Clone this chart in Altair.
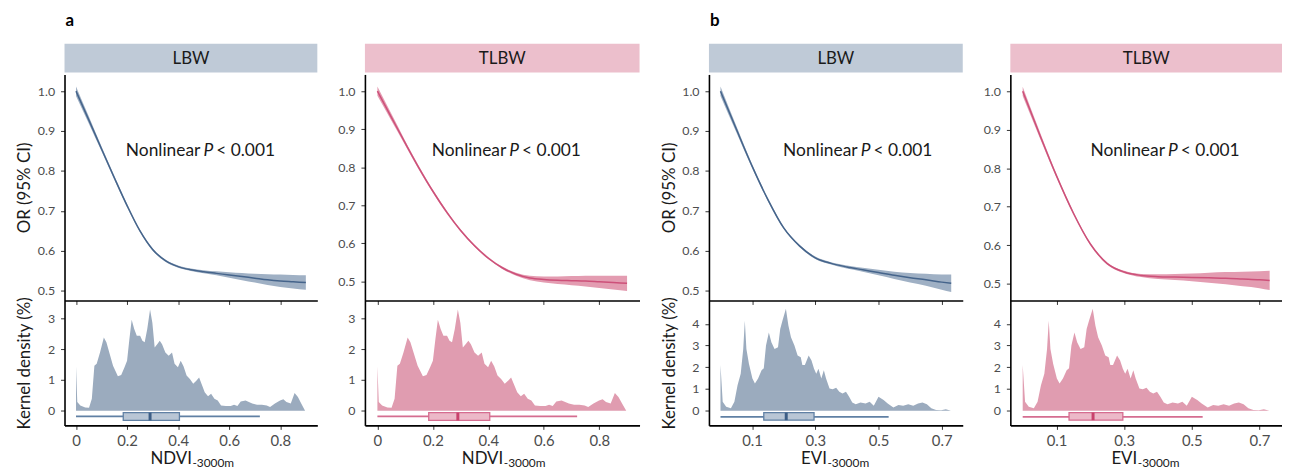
import altair as alt
import pandas as pd

FONT = "Lato"

# ---------------- data ----------------
ndvi_x = [0.00, 0.05, 0.10, 0.15, 0.20, 0.25, 0.30, 0.35, 0.40, 0.45,
          0.50, 0.55, 0.60, 0.65, 0.70, 0.75, 0.80, 0.85, 0.90]
a_lbw_or = [1.000, 0.928, 0.855, 0.783, 0.713, 0.650, 0.603, 0.575, 0.560, 0.552,
            0.547, 0.543, 0.539, 0.535, 0.531, 0.527, 0.524, 0.522, 0.520]
a_lbw_hi = [1.012, 0.937, 0.861, 0.788, 0.717, 0.653, 0.606, 0.578, 0.563, 0.555,
            0.551, 0.548, 0.546, 0.544, 0.542, 0.541, 0.540, 0.539, 0.538]
a_lbw_lo = [0.988, 0.919, 0.849, 0.778, 0.709, 0.647, 0.600, 0.572, 0.557, 0.549,
            0.543, 0.538, 0.532, 0.526, 0.520, 0.514, 0.509, 0.505, 0.502]

a_tlbw_or = [1.000, 0.932, 0.864, 0.798, 0.737, 0.682, 0.634, 0.594, 0.561, 0.536,
             0.519, 0.509, 0.505, 0.503, 0.502, 0.501, 0.499, 0.497, 0.495]
a_tlbw_hi = [1.012, 0.941, 0.870, 0.803, 0.741, 0.686, 0.637, 0.597, 0.564, 0.539,
             0.523, 0.515, 0.513, 0.513, 0.514, 0.515, 0.515, 0.515, 0.515]
a_tlbw_lo = [0.988, 0.923, 0.858, 0.793, 0.733, 0.678, 0.631, 0.591, 0.558, 0.533,
             0.515, 0.503, 0.497, 0.493, 0.490, 0.487, 0.483, 0.479, 0.475]

evi_x = [0.00, 0.05, 0.10, 0.15, 0.20, 0.25, 0.30, 0.35, 0.40, 0.45,
         0.50, 0.55, 0.60, 0.65, 0.70, 0.73]
b_lbw_or = [1.000, 0.905, 0.812, 0.728, 0.657, 0.612, 0.582, 0.568, 0.559, 0.552,
            0.545, 0.538, 0.532, 0.527, 0.521, 0.518]
b_lbw_hi = [1.012, 0.913, 0.817, 0.732, 0.660, 0.615, 0.585, 0.571, 0.563, 0.557,
            0.552, 0.547, 0.544, 0.542, 0.540, 0.540]
b_lbw_lo = [0.988, 0.897, 0.807, 0.724, 0.654, 0.609, 0.579, 0.565, 0.555, 0.547,
            0.538, 0.529, 0.520, 0.512, 0.502, 0.496]

b_tlbw_or = [1.000, 0.888, 0.780, 0.683, 0.603, 0.552, 0.530, 0.521, 0.518, 0.517,
             0.516, 0.515, 0.514, 0.512, 0.510, 0.508]
b_tlbw_hi = [1.012, 0.896, 0.785, 0.687, 0.606, 0.555, 0.533, 0.525, 0.524, 0.525,
             0.526, 0.528, 0.530, 0.531, 0.532, 0.533]
b_tlbw_lo = [0.988, 0.880, 0.775, 0.679, 0.600, 0.549, 0.527, 0.517, 0.512, 0.509,
             0.506, 0.502, 0.498, 0.493, 0.488, 0.483]

ndvi_dens_x = [0.000, 0.005, 0.017, 0.036, 0.051, 0.062, 0.072, 0.081, 0.094, 0.109,
               0.119, 0.132, 0.145, 0.164, 0.177, 0.190, 0.200, 0.209, 0.218, 0.228,
               0.238, 0.251, 0.260, 0.269, 0.279, 0.290, 0.299, 0.308, 0.318, 0.328,
               0.337, 0.350, 0.363, 0.376, 0.386, 0.399, 0.410, 0.421, 0.433, 0.446,
               0.459, 0.472, 0.482, 0.494, 0.504, 0.517, 0.529, 0.542, 0.555, 0.568,
               0.587, 0.606, 0.619, 0.632, 0.645, 0.664, 0.677, 0.690, 0.709, 0.728,
               0.747, 0.760, 0.779, 0.799, 0.812, 0.824, 0.841, 0.856, 0.869, 0.882,
               0.897]
ndvi_dens_y = [1.44, 0.28, 0.17, 0.10, 0.09, 0.39, 1.46, 1.52, 1.89, 2.38,
               2.22, 1.84, 1.46, 1.12, 1.16, 1.41, 1.62, 2.32, 2.95, 2.65,
               2.43, 2.43, 2.27, 2.22, 2.65, 3.29, 2.86, 2.05, 2.16, 2.27,
               2.16, 1.89, 1.78, 1.89, 1.52, 1.41, 1.62, 1.44, 1.14, 1.03,
               0.87, 0.98, 1.08, 0.82, 0.60, 0.47, 0.55, 0.39, 0.33, 0.17,
               0.15, 0.15, 0.19, 0.15, 0.30, 0.33, 0.28, 0.23, 0.19, 0.19,
               0.17, 0.12, 0.23, 0.33, 0.37, 0.28, 0.23, 0.57, 0.44, 0.23,
               0.00]

evi_dens_x = [0.000, 0.007, 0.018, 0.033, 0.044, 0.054, 0.064, 0.072, 0.077, 0.082,
              0.090, 0.101, 0.109, 0.119, 0.130, 0.137, 0.144, 0.153, 0.161, 0.171,
              0.182, 0.189, 0.196, 0.207, 0.215, 0.223, 0.234, 0.244, 0.254, 0.259,
              0.267, 0.279, 0.288, 0.296, 0.303, 0.310, 0.319, 0.327, 0.334, 0.345,
              0.355, 0.366, 0.376, 0.386, 0.397, 0.407, 0.417, 0.428, 0.443, 0.459,
              0.472, 0.485, 0.500, 0.516, 0.529, 0.547, 0.563, 0.578, 0.594, 0.610,
              0.625, 0.639, 0.653, 0.667, 0.682, 0.698, 0.713, 0.729]
evi_dens_y = [2.11, 0.41, 0.18, 0.11, 0.41, 1.17, 1.70, 2.84, 4.14, 2.84,
              2.16, 1.48, 1.25, 1.48, 1.86, 1.96, 3.00, 3.60, 3.15, 2.84,
              2.92, 3.76, 4.14, 4.70, 3.91, 3.38, 3.00, 2.54, 2.46, 2.11,
              2.11, 2.54, 2.31, 1.93, 1.70, 1.93, 1.48, 1.86, 1.48, 1.02,
              0.99, 1.05, 0.87, 0.79, 0.87, 0.64, 0.38, 0.29, 0.37, 0.33,
              0.41, 0.23, 0.64, 0.49, 0.33, 0.14, 0.26, 0.23, 0.29, 0.23,
              0.33, 0.38, 0.29, 0.11, 0.03, 0.02, 0.06, 0.00]

# min, q1, median, q3, max
ndvi_box = [0.0, 0.185, 0.290, 0.405, 0.720]
evi_box = [0.0, 0.137, 0.208, 0.296, 0.532]

outcomes = ["LBW", "TLBW", "LBW", "TLBW"]
letters = ["a", "", "b", ""]
ndvi_ticks = [0, 0.2, 0.4, 0.6, 0.8]
evi_ticks = [0.1, 0.3, 0.5, 0.7]
or_ticks = [0.5, 0.6, 0.7, 0.8, 0.9, 1.0]
dens_ticks_a = [0, 1, 2, 3]
dens_ticks_b = [0, 1, 2, 3, 4]

LBW_COL = dict(strip="#bfcad7", line="#45648b", band="#9fb0c4", dens="#9babbe",
               boxfill="#b9c6d5", boxline="#6080a4", med="#3d5e86")
TLBW_COL = dict(strip="#ecbfcc", line="#cd5079", band="#e39cb1", dens="#e09cb0",
                boxfill="#ecb9c8", boxline="#d56d90", med="#c8426c")

panels = [
    dict(name=outcomes[0], letter=letters[0], col=LBW_COL, w=255, xs=ndvi_x,
         orv=a_lbw_or, lo=a_lbw_lo, hi=a_lbw_hi, dx=ndvi_dens_x, dy=ndvi_dens_y,
         box=ndvi_box, xdom=[-0.045, 0.945], ydom=[0.475, 1.042],
         ddom=[-0.48, 3.58], dticks=dens_ticks_a, xticks=ndvi_ticks, xfmt=".1~f",
         wy=-0.19, by=[-0.065, -0.32], ann=[0.518, 0.838], ytitle=True,
         xmain="NDVI", xsub="-3000m", xoff=1),
    dict(name=outcomes[1], letter=letters[1], col=TLBW_COL, w=277, xs=ndvi_x,
         orv=a_tlbw_or, lo=a_tlbw_lo, hi=a_tlbw_hi, dx=ndvi_dens_x, dy=ndvi_dens_y,
         box=ndvi_box, xdom=[-0.045, 0.945], ydom=[0.450, 1.044],
         ddom=[-0.48, 3.58], dticks=dens_ticks_a, xticks=ndvi_ticks, xfmt=".1~f",
         wy=-0.19, by=[-0.065, -0.32], ann=[0.493, 0.830], ytitle=False,
         xmain="NDVI", xsub="-3000m", xoff=1),
    dict(name=outcomes[2], letter=letters[2], col=LBW_COL, w=256, xs=evi_x,
         orv=b_lbw_or, lo=b_lbw_lo, hi=b_lbw_hi, dx=evi_dens_x, dy=evi_dens_y,
         box=evi_box, xdom=[-0.0365, 0.7665], ydom=[0.475, 1.042],
         ddom=[-0.68, 5.08], dticks=dens_ticks_b, xticks=evi_ticks, xfmt=".1f",
         wy=-0.29, by=[-0.09, -0.44], ann=[0.459, 0.838], ytitle=True,
         xmain="EVI", xsub="-3000m", xoff=-9),
    dict(name=outcomes[3], letter=letters[3], col=TLBW_COL, w=274, xs=evi_x,
         orv=b_tlbw_or, lo=b_tlbw_lo, hi=b_tlbw_hi, dx=evi_dens_x, dy=evi_dens_y,
         box=evi_box, xdom=[-0.0365, 0.7665], ydom=[0.456, 1.044],
         ddom=[-0.68, 5.08], dticks=dens_ticks_b, xticks=evi_ticks, xfmt=".1f",
         wy=-0.29, by=[-0.09, -0.44], ann=[0.444, 0.832], ytitle=False,
         xmain="EVI", xsub="-3000m", xoff=-9),
]

TOP_H = 228
BOT_H = 126
TXT = "#1a1a1a"


def y_axis(values, fmt, title, h):
    kw = dict(values=values, format=fmt, grid=False, tickSize=4, labelPadding=6,
              labelFontSize=12.5, labelOverlap=False)
    if title:
        kw.update(title=title, titleX=-35, titleY=h / 2, titleAngle=-90,
                  titleBaseline="alphabetic", titleAlign="center", titleFontSize=17)
    else:
        kw["title"] = None
    return alt.Axis(**kw)


def make_strip(p):
    df = pd.DataFrame({"label": [p["name"]]})
    base = alt.Chart(df)
    rect = base.mark_rect(color=p["col"]["strip"]).encode(
        x=alt.value(0), x2=alt.value(p["w"]), y=alt.value(0), y2=alt.value(29))
    txt = base.mark_text(font=FONT, fontSize=17, color=TXT, baseline="middle",
                         align="center").encode(
        x=alt.value(p["w"] / 2), y=alt.value(15), text="label:N")
    letter = base.mark_text(text=p["letter"] if p["letter"] else "a", font=FONT,
                            fontSize=17, fontWeight="bold", align="left",
                            baseline="alphabetic", color="#000000",
                            opacity=1 if p["letter"] else 0).encode(
        x=alt.value(1), y=alt.value(-18))
    return alt.layer(rect, txt, letter).properties(width=p["w"], height=31)


def make_top(p):
    df = pd.DataFrame({"x": p["xs"], "or": p["orv"], "lo": p["lo"], "hi": p["hi"]})
    xsc = alt.Scale(domain=p["xdom"], nice=False, zero=False)
    ysc = alt.Scale(domain=p["ydom"], nice=False, zero=False)
    xax = alt.Axis(values=p["xticks"], labels=False, title=None, grid=False, tickSize=4)
    yax = y_axis(or_ticks, ".1f", "OR (95% CI)" if p["ytitle"] else None, TOP_H)
    X = lambda f: alt.X(f, scale=xsc, axis=xax)
    Y = lambda f: alt.Y(f, scale=ysc, axis=yax)
    band = alt.Chart(df).mark_area(color=p["col"]["band"], interpolate="monotone").encode(
        x=X("x:Q"), y=Y("lo:Q"), y2="hi:Q")
    line = alt.Chart(df).mark_line(color=p["col"]["line"], strokeWidth=1.5,
                                   interpolate="monotone").encode(
        x=X("x:Q"), y=Y("or:Q"))
    adf = pd.DataFrame({"x": [p["ann"][0]], "y": [p["ann"][1]]})
    common = dict(font=FONT, fontSize=17.5, baseline="alphabetic", color=TXT)
    t1 = alt.Chart(adf).mark_text(text="Nonlinear", align="right", dx=-8, **common).encode(
        x=X("x:Q"), y=Y("y:Q"))
    t2 = alt.Chart(adf).mark_text(text="P", align="center", fontStyle="italic", **common).encode(
        x=X("x:Q"), y=Y("y:Q"))
    t3 = alt.Chart(adf).mark_text(text="< 0.001", align="left", dx=8, **common).encode(
        x=X("x:Q"), y=Y("y:Q"))
    return alt.layer(band, line, t1, t2, t3).properties(width=p["w"], height=TOP_H)


def make_bottom(p):
    xsc = alt.Scale(domain=p["xdom"], nice=False, zero=False)
    ysc = alt.Scale(domain=p["ddom"], nice=False, zero=False)
    xax = alt.Axis(values=p["xticks"], format=p["xfmt"], title=None, grid=False,
                   tickSize=4, labelPadding=4, labelFontSize=15)
    yax = y_axis(p["dticks"], "d", "Kernel density (%)" if p["ytitle"] else None, BOT_H)
    X = lambda f: alt.X(f, scale=xsc, axis=xax)
    Y = lambda f: alt.Y(f, scale=ysc, axis=yax)
    ddf = pd.DataFrame({"x": p["dx"], "d": p["dy"]})
    area = alt.Chart(ddf).mark_area(color=p["col"]["dens"], interpolate="linear").encode(
        x=X("x:Q"), y=Y("d:Q"), y2=alt.datum(0))
    b = p["box"]
    bdf = pd.DataFrame({"mn": [b[0]], "q1": [b[1]], "med": [b[2]], "q3": [b[3]],
                        "mx": [b[4]], "wy": [p["wy"]], "b1": [p["by"][0]],
                        "b2": [p["by"][1]]})
    whisk = alt.Chart(bdf).mark_rule(color=p["col"]["boxline"], strokeWidth=1.8).encode(
        x=X("mn:Q"), x2="mx:Q", y=Y("wy:Q"))
    boxr = alt.Chart(bdf).mark_rect(fill=p["col"]["boxfill"], stroke=p["col"]["boxline"],
                                    strokeWidth=1.3).encode(
        x=X("q1:Q"), x2="q3:Q", y=Y("b1:Q"), y2="b2:Q")
    med = alt.Chart(bdf).mark_rule(color=p["col"]["med"], strokeWidth=3).encode(
        x=X("med:Q"), y=Y("b1:Q"), y2="b2:Q")
    tdf = pd.DataFrame({"m": [p["xmain"]], "s": [p["xsub"]]})
    cx = p["w"] / 2 + p["xoff"]
    xt1 = alt.Chart(tdf).mark_text(font=FONT, fontSize=17, align="right",
                                   baseline="alphabetic", color=TXT).encode(
        x=alt.value(cx), y=alt.value(BOT_H + 39), text="m:N")
    xt2 = alt.Chart(tdf).mark_text(font=FONT, fontSize=12, align="left",
                                   baseline="alphabetic", color=TXT).encode(
        x=alt.value(cx + 0.5), y=alt.value(BOT_H + 42), text="s:N")
    return alt.layer(area, whisk, boxr, med, xt1, xt2).properties(width=p["w"], height=BOT_H)


cols = []
for p in panels:
    cols.append(alt.vconcat(make_strip(p), make_top(p), make_bottom(p),
                            spacing=0, bounds="flush"))

chart = alt.hconcat(*cols, spacing=20).properties(
    padding={"left": 7, "top": 2, "right": 0, "bottom": 0}
).configure_view(strokeOpacity=0).configure_axis(
    domainColor="#000000", domainWidth=1.6, tickColor="#333333", tickWidth=1,
    labelFont=FONT, labelColor="#4d4d4d", titleFont=FONT, titleColor=TXT,
    titleFontWeight="normal"
)

chart.save("out.html", embed_options={"renderer": "svg", "actions": False})
